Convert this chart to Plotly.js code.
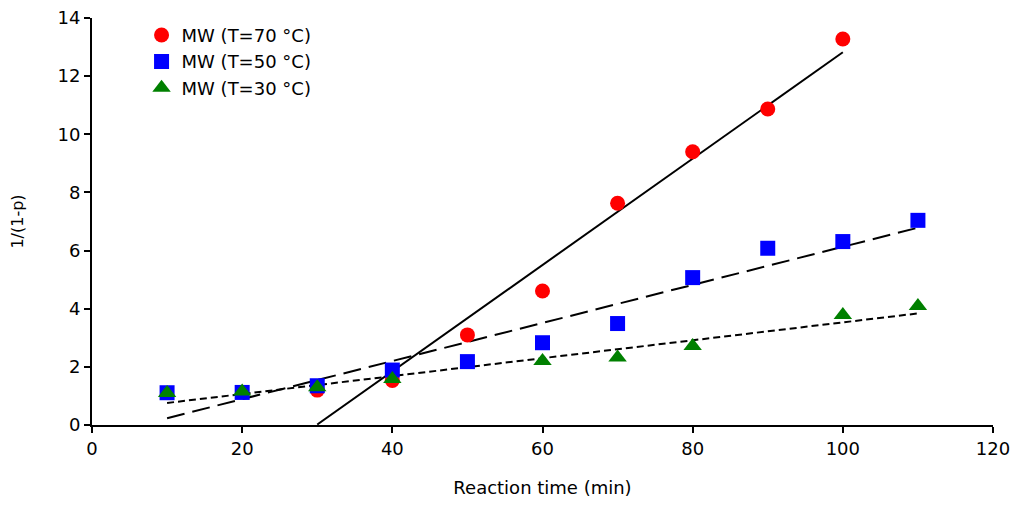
<!DOCTYPE html>
<html>
<head>
<meta charset="utf-8">
<script src="https://cdn.plot.ly/plotly-3.0.1.min.js"></script>
<style>html,body{margin:0;padding:0;background:#fff}#chart{width:1024px;height:509px}</style>
</head>
<body>
<div id="chart"></div>
<script>
// reaction time (min) and 1/(1-p)
const t70 = [30, 40, 50, 60, 70, 80, 90, 100];
const y70 = [1.2, 1.53, 3.1, 4.61, 7.63, 9.4, 10.87, 13.28];
const t50 = [10, 20, 30, 40, 50, 60, 70, 80, 90, 100, 110];
const y50 = [1.11, 1.12, 1.35, 1.89, 2.18, 2.83, 3.49, 5.07, 6.08, 6.31, 7.04];
const t30 = [10, 20, 30, 40, 60, 70, 80, 100, 110];
const y30 = [1.1, 1.15, 1.3, 1.58, 2.2, 2.32, 2.72, 3.78, 4.09];

// linear trendlines: [slope, intercept, xStart, xEnd]
const fit70 = [0.1829, -5.47, 30, 100];
const fit50 = [0.0655, -0.42, 10, 110];
const fit30 = [0.0308, 0.45, 10, 110];

const names = ['MW (T=70 °C)', 'MW (T=50 °C)', 'MW (T=30 °C)'];

function fitLine(f, dash) {
  const xs = [f[2], f[3]];
  return { x: xs, y: xs.map(v => f[0] * v + f[1]), type: 'scatter', mode: 'lines',
    line: { color: '#000', width: 2, dash: dash }, hoverinfo: 'skip', showlegend: false };
}

function pts(x, y, name, color, symbol, size) {
  return { x: x, y: y, name: name, type: 'scatter', mode: 'markers',
    marker: { color: color, symbol: symbol, size: size, line: { width: 0 } } };
}

const traces = [
  fitLine(fit70, 'solid'),
  fitLine(fit50, '18px,8px'),
  fitLine(fit30, '7px,4px'),
  pts(t70, y70, names[0], '#ff0000', 'circle', 15),
  pts(t50, y50, names[1], '#0000ff', 'square', 15),
  pts(t30, y30, names[2], '#008000', 'triangle-up', 16),
];

const layout = {
  width: 1024, height: 509,
  margin: { l: 92, r: 31, t: 18, b: 84 },
  paper_bgcolor: '#fff', plot_bgcolor: '#fff',
  font: { family: 'DejaVu Sans, Arial, sans-serif', color: '#000', size: 17 },
  xaxis: { range: [0, 120], dtick: 20, showgrid: false, zeroline: false,
    showline: true, linecolor: '#000', linewidth: 2, ticks: 'outside', ticklen: 6,
    tickcolor: '#000', tickwidth: 2, tickfont: { size: 18 },
    title: { text: 'Reaction time (min)', font: { size: 18 }, standoff: 24 } },
  yaxis: { range: [0, 14], dtick: 2, showgrid: false, zeroline: false,
    showline: true, linecolor: '#000', linewidth: 2, ticks: 'outside', ticklen: 6,
    tickcolor: '#000', tickwidth: 2, tickfont: { size: 18 },
    title: { text: '1/(1-p)', font: { size: 16 }, standoff: 30 } },
  legend: { x: 0.055, y: 1.003, xanchor: 'left', yanchor: 'top', bgcolor: 'rgba(0,0,0,0)',
    font: { size: 18 }, itemwidth: 30, tracegroupgap: 0 },
  showlegend: true,
};

Plotly.newPlot('chart', traces, layout, { displayModeBar: false, staticPlot: true });
</script>
</body>
</html>
